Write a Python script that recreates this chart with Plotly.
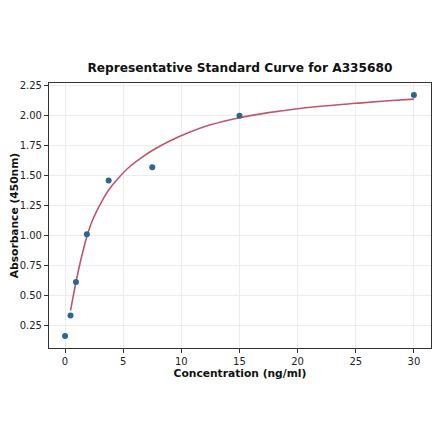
import plotly.graph_objects as go

# standard points
conc = [0, 0.469, 0.938, 1.875, 3.75, 7.5, 15, 30]
absorb = [0.158, 0.33, 0.61, 1.01, 1.46, 1.57, 2.0, 2.175]

# fitted curve
fit_x = [0.47, 0.7, 0.94, 1.25, 1.6, 1.875, 2.25, 2.75, 3.25, 3.75, 4.5, 5.5,
         6.5, 7.5, 9, 10.75, 12.5, 15, 17.5, 20, 22.5, 25, 27.5, 30]
fit_y = [0.37, 0.49, 0.61, 0.75, 0.89, 0.99, 1.10, 1.21, 1.30, 1.38, 1.47, 1.57,
         1.645, 1.71, 1.79, 1.865, 1.925, 1.985, 2.027, 2.06, 2.085, 2.105, 2.124, 2.14]

x_ticks = [0, 5, 10, 15, 20, 25, 30]
y_ticks = [0.25, 0.5, 0.75, 1.0, 1.25, 1.5, 1.75, 2.0, 2.25]

fig = go.Figure()
fig.add_trace(go.Scatter(x=fit_x, y=fit_y, mode='lines', line_shape='spline',
                         line=dict(color='#c0566e', width=1.6, smoothing=1.0), showlegend=False))
fig.add_trace(go.Scatter(x=conc, y=absorb, mode='markers',
                         marker=dict(color='#2a6595', size=6), showlegend=False))

axis_common = dict(showline=True, linecolor='#333333', linewidth=1.2, mirror=True,
                   ticks='outside', ticklen=4, tickcolor='#333333', automargin=False,
                   showgrid=True, gridcolor='#ececec', gridwidth=1, zeroline=False,
                   tickfont=dict(size=10, color='#222222'))

fig.update_xaxes(range=[-1.38, 31.47], tickvals=x_ticks,
                 title=dict(text='<b>Concentration (ng/ml)</b>', font=dict(size=10.7, color='#111111'), standoff=0),
                 **axis_common)
fig.update_yaxes(range=[0.058, 2.275], tickvals=y_ticks, tickformat='.2f',
                 title=dict(text='<b>Absorbance (450nm)</b>', font=dict(size=10.7, color='#111111'), standoff=4),
                 **axis_common)

# the page adds ~8px body margin, so the figure is a bit smaller than the window
fig.update_layout(
    width=432, height=433,
    margin=dict(l=41, r=9, t=75, b=93),
    plot_bgcolor='white', paper_bgcolor='white',
    font=dict(family='DejaVu Sans'),
    title=dict(text='<b>Representative Standard Curve for A335680</b>',
               x=0.537, xanchor='center', y=0.861, yanchor='middle',
               font=dict(size=12.2, color='#111111')),
)

fig.write_html("out.html")
